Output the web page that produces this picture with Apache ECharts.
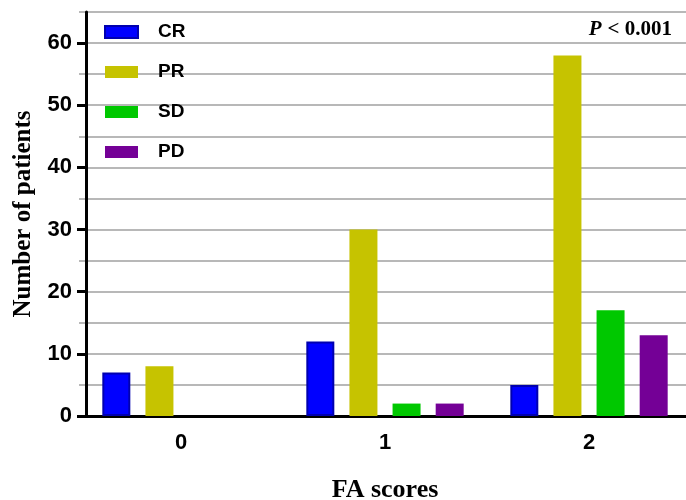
<!DOCTYPE html>
<html><head><meta charset="utf-8">
<script src="https://cdn.jsdelivr.net/npm/echarts@6/dist/echarts.min.js"></script>
<style>html,body{margin:0;padding:0;background:#fff}#c{width:686px;height:500px}</style>
</head><body><div id="c"></div>
<script>
const categories = ['0', '1', '2'];
const seriesNames = ['CR', 'PR', 'SD', 'PD'];
const crValues = [7, 12, 5];
const prValues = [8, 30, 58];
const sdValues = [0, 2, 17];
const pdValues = [0, 2, 13];
const yTickValues = [0, 10, 20, 30, 40, 50, 60];
const colors = ['#0000FF', '#C6C300', '#00C800', '#740096'];
const borders = ['#0000B0', '#C6C300', '#00C800', '#740096'];
const values = [crValues, prValues, sdValues, pdValues];

const chart = echarts.init(document.getElementById('c'), null, {renderer: 'canvas'});
chart.setOption({
  animation: false,
  grid: {left: 79, right: -5, top: 12, bottom: 84, containLabel: false, outerBoundsMode: 'none'},
  legend: {
    orient: 'vertical', left: 104, top: 22, itemWidth: 33, itemHeight: 12, itemGap: 20, padding: 0,
    icon: 'rect',
    textStyle: {fontFamily: 'Liberation Sans', fontWeight: 'bold', fontSize: 19, color: '#000', lineHeight: 20, padding: [0, 0, 0, 15]},
    data: seriesNames
  },
  xAxis: {
    type: 'category', data: categories,
    name: 'FA scores', nameLocation: 'middle', nameGap: 61,
    nameTextStyle: {fontFamily: 'Liberation Serif', fontWeight: 'bold', fontSize: 26, color: '#000'},
    axisLine: {lineStyle: {color: '#000', width: 3}},
    axisTick: {alignWithLabel: true, length: 9, lineStyle: {color: '#000', width: 3}},
    axisLabel: {fontFamily: 'Liberation Sans', fontWeight: 'bold', fontSize: 22, color: '#000', margin: 16},
    splitLine: {show: false}
  },
  yAxis: [{
    type: 'value', min: 0, max: 65, interval: 5, offset: -7, z: 3,
    name: 'Number of patients', nameLocation: 'middle', nameGap: 50,
    nameTextStyle: {fontFamily: 'Liberation Serif', fontWeight: 'bold', fontSize: 25, color: '#000'},
    axisLine: {show: true, lineStyle: {color: '#000', width: 3}},
    axisTick: {show: true, length: 9, customValues: yTickValues, lineStyle: {color: '#000', width: 3}},
    axisLabel: {customValues: yTickValues, fontFamily: 'Liberation Sans', fontWeight: 'bold', fontSize: 22, color: '#000', margin: 14},
    splitLine: {show: false}
  }, {
    type: 'value', min: 0, max: 65, interval: 5, position: 'left', z: 0,
    axisLine: {show: false}, axisTick: {show: false}, axisLabel: {show: false},
    splitLine: {show: true, lineStyle: {color: '#A0A0A0', width: 1.5}}
  }],
  graphic: [{
    type: 'text', right: 14, top: 19,
    style: {
      text: '{i|P} {n|< 0.001}',
      rich: {
        i: {fontFamily: 'Liberation Serif', fontStyle: 'italic', fontWeight: 'bold', fontSize: 21, fill: '#000'},
        n: {fontFamily: 'Liberation Serif', fontWeight: 'bold', fontSize: 21, fill: '#000'}
      },
      fontSize: 21
    }
  }],
  series: seriesNames.map((n, i) => ({
    name: n, type: 'bar', data: values[i], barWidth: 28, barGap: '54%',
    itemStyle: {color: colors[i], borderColor: borders[i], borderWidth: i === 0 ? 2 : 0}
  }))
});
</script></body></html>
